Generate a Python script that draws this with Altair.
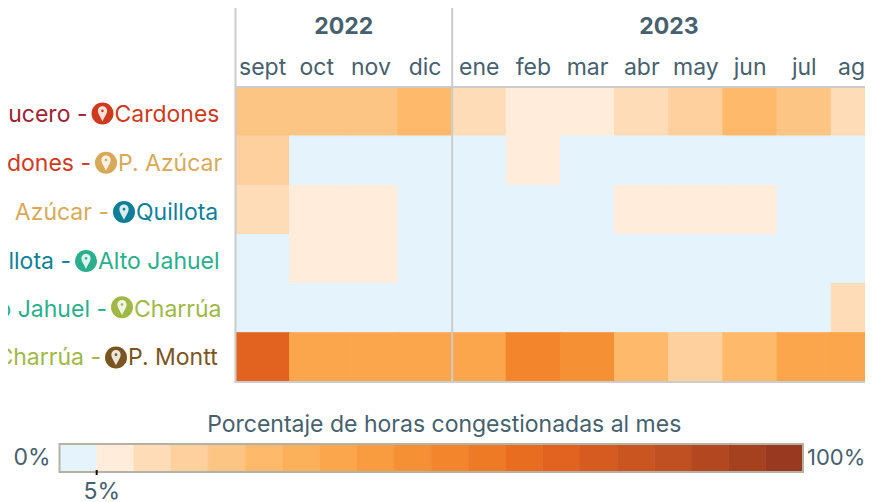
import altair as alt
import pandas as pd

FONT = "Inter"
TEXT = "#47606e"
GRID = "#cccccc"

months = ["sept", "oct", "nov", "dic", "ene", "feb", "mar", "abr", "may", "jun", "jul", "ago"]
rows = ["Crucero - Cardones", "Cardones - P. Azúcar", "P. Azúcar - Quillota",
        "Quillota - Alto Jahuel", "Alto Jahuel - Charrúa", "Charrúa - P. Montt"]
left_names = ["Crucero -", "Cardones -", "P. Azúcar -", "Quillota -", "Alto Jahuel -", "Charrúa -"]
right_names = ["Cardones", "P. Azúcar", "Quillota", "Alto Jahuel", "Charrúa", "P. Montt"]

# percentage of congested hours
v_crucero = [22, 22, 22, 27, 12, 7, 7, 12, 17, 27, 22, 12]
v_cardones = [17, 2, 2, 2, 2, 7, 2, 2, 2, 2, 2, 2]
v_azucar = [12, 7, 7, 2, 2, 2, 2, 7, 7, 7, 2, 2]
v_quillota = [2, 7, 7, 2, 2, 2, 2, 2, 2, 2, 2, 2]
v_jahuel = [2, 2, 2, 2, 2, 2, 2, 2, 2, 2, 2, 12]
v_charrua = [67, 37, 37, 37, 37, 52, 47, 27, 17, 27, 37, 37]
all_values = [v_crucero, v_cardones, v_azucar, v_quillota, v_jahuel, v_charrua]

left_colors = ["#9c2433", "#cf3a1e", "#d9a95a", "#0f7f98", "#2bae8e", "#a0b846"]
right_colors = ["#cf3a1e", "#d9a95a", "#0f7f98", "#2bae8e", "#a0b846", "#7a5520"]

thresholds = list(range(5, 100, 5))
bin_colors = ["#e4f3fc", "#ffecdb", "#fedcb8", "#fed09d", "#fdc583", "#feba6a", "#fbb05a",
              "#fba64c", "#f99b3f", "#f69034", "#f3852c", "#ef7a26", "#e96d20", "#e1631f",
              "#d65b20", "#cb5521", "#c04f22", "#b34720", "#a6411f", "#993a20"]

# label layout, in pixels from the plot's left edge / row centre
pin_centers = [-132.5, -129, -111, -149, -113, -119]
pin_dy = [2, 2, 2, 2, -1, 0]
text_dy = [3.5, 3.5, 3, 3, 2, 1]

heat_df = pd.DataFrame([
    {"row": r, "month": m, "value": all_values[i][j]}
    for i, r in enumerate(rows) for j, m in enumerate(months)
])

W, H = 630, 295
xs = alt.Scale(domain=months, range=[0.5, 650.5], paddingInner=0, paddingOuter=0)
ys = alt.Scale(domain=rows, paddingInner=0, paddingOuter=0)
cs = alt.Scale(type="threshold", domain=thresholds, range=bin_colors)
AX = alt.Axis(orient="top", domain=False, ticks=False, grid=False, labelAngle=0,
              labelFont=FONT, labelFontSize=23, labelColor=TEXT, labelPadding=8,
              labelOverlap=False, labelFontWeight=400)
X = lambda **k: alt.X("month:N", scale=xs, sort=months, title=None, axis=AX, **k)
Y = lambda **k: alt.Y("row:N", scale=ys, sort=rows, axis=None, title=None, **k)

heat = alt.Chart(heat_df).mark_rect(strokeWidth=1.2, opacity=1).encode(
    x=X(), y=Y(),
    color=alt.Color("value:Q", scale=cs, legend=None),
    stroke=alt.Stroke("value:Q", scale=cs, legend=None),
)

v_rules = alt.Chart(pd.DataFrame({"month": ["sept", "ene"]})).mark_rule(
    color=GRID, strokeWidth=2).encode(
    x=X(bandPosition=0), y=alt.value(-82), y2=alt.value(H + 1))
h_top = alt.Chart(pd.DataFrame({"row": [rows[0]]})).mark_rule(color=GRID, strokeWidth=2).encode(
    y=Y(bandPosition=0), x=alt.value(0), x2=alt.value(W))
h_bot = alt.Chart(pd.DataFrame({"row": [rows[-1]]})).mark_rule(color=GRID, strokeWidth=2).encode(
    y=Y(bandPosition=1), x=alt.value(0), x2=alt.value(W))

years = alt.Chart(pd.DataFrame({"month": ["oct", "abr"], "year": ["2022", "2023"]})).mark_text(
    font=FONT, fontSize=23, fontWeight=700, color=TEXT).encode(
    x=X(bandPosition=1), y=alt.value(-60), text="year:N")

labels = []
PIN = "M0,0.72 C-0.15,0.35 -0.42,0.05 -0.42,-0.25 A0.42,0.42 0 1 1 0.42,-0.25 C0.42,0.05 0.15,0.35 0,0.72 Z M0.12,-0.25 A0.12,0.12 0 1 0 -0.12,-0.25 A0.12,0.12 0 1 0 0.12,-0.25 Z"
for i, r in enumerate(rows):
    d = pd.DataFrame({"row": [r], "left": [left_names[i]], "right": [right_names[i]]})
    cx = pin_centers[i]
    labels.append(alt.Chart(d).mark_text(font=FONT, fontSize=23, align="right", baseline="middle",
                                         color=left_colors[i], dy=text_dy[i]).encode(
        x=alt.value(cx - 15), y=Y(), text="left:N"))
    labels.append(alt.Chart(d).mark_text(font=FONT, fontSize=23, align="left", baseline="middle",
                                         color=right_colors[i], dy=text_dy[i]).encode(
        x=alt.value(cx + 12), y=Y(), text="right:N"))
    labels.append(alt.Chart(d).mark_point(shape="circle", filled=True, size=484, opacity=1,
                                          color=right_colors[i], yOffset=pin_dy[i]).encode(
        x=alt.value(cx), y=Y()))
    labels.append(alt.Chart(d).mark_point(shape=PIN, filled=True, size=484, opacity=0.85,
                                          color="#ffffff", yOffset=pin_dy[i]).encode(
        x=alt.value(cx), y=Y()))

main = alt.layer(heat, h_top, h_bot, v_rules, years, *labels)

# colour key: one 5% cell per colour
key_df = pd.DataFrame({"lo": [0] + thresholds, "hi": thresholds + [100],
                       "mid": [t + 2.5 for t in [0] + thresholds]})
kx = alt.Scale(domain=[0, 100], range=[-175.5, 568], nice=False, zero=False)
KX = lambda f="pct": alt.X(f"{f}:Q", scale=kx, axis=None, title=None)
key_top, key_bot = 357, 385
key = alt.Chart(key_df).mark_rect(strokeWidth=0.6, opacity=1).encode(
    x=KX("lo"), x2="hi:Q", y=alt.value(key_top), y2=alt.value(key_bot),
    color=alt.Color("mid:Q", scale=cs, legend=None),
    stroke=alt.Stroke("mid:Q", scale=cs, legend=None))
frame = alt.Chart(pd.DataFrame({"lo": [0], "hi": [100]})).mark_rect(
    fillOpacity=0, stroke="#b5b1a5", strokeWidth=2).encode(
    x=KX("lo"), x2="hi:Q", y=alt.value(key_top), y2=alt.value(key_bot))
tick = alt.Chart(pd.DataFrame({"pct": [5]})).mark_rule(color="#111111", strokeWidth=2).encode(
    x=KX(), y=alt.value(key_bot - 2), y2=alt.value(key_bot + 3))


def key_text(pct, txt, y, size=23, **kw):
    return alt.Chart(pd.DataFrame({"pct": [pct], "t": [txt]})).mark_text(
        font=FONT, fontSize=size, color=TEXT, baseline="middle", **kw).encode(
        x=KX(), y=alt.value(y), text="t:N")


t0 = key_text(0, "0%", 371, align="right", dx=-9)
t100 = key_text(100, "100%", 371, size=22, align="left", dx=4)
t5 = key_text(5, "5%", 405, dx=5)
ttl = key_text(50, "Porcentaje de horas congestionadas al mes", 338, dx=13)

legend_layer = alt.layer(key, frame, tick, t0, t100, t5, ttl)

chart = alt.layer(main, legend_layer).resolve_scale(x="independent", y="independent").properties(
    width=W, height=H,
    padding={"left": 227, "top": 79, "right": 0, "bottom": 120},
    autosize=alt.AutoSizeParams(type="none"),
).configure_view(stroke=None)

chart.save("out.html", embed_options={"renderer": "svg", "actions": False})
